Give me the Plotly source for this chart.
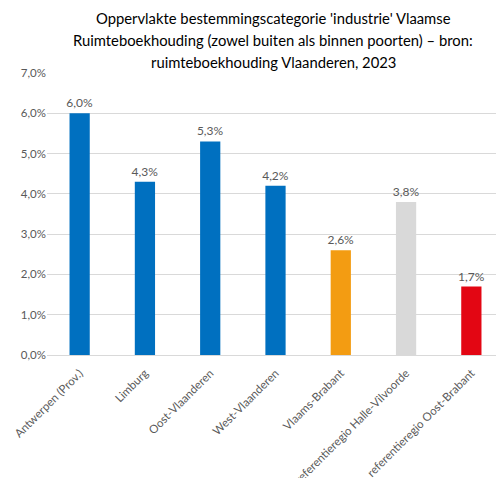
import plotly.graph_objects as go

categories = ["Antwerpen (Prov.)", "Limburg", "Oost-Vlaanderen", "West-Vlaanderen",
              "Vlaams-Brabant", "referentieregio Halle-Vilvoorde", "referentieregio Oost-Brabant"]
values = [6.0, 4.3, 5.3, 4.2, 2.6, 3.8, 1.7]
colors = ["#0070C0", "#0070C0", "#0070C0", "#0070C0", "#F39C12", "#D9D9D9", "#E30613"]
labels = [f"{v:.1f}%".replace(".", ",") for v in values]
ytick_vals = [0, 1, 2, 3, 4, 5, 6, 7]
ytick_text = [f"{v:.1f}%".replace(".", ",") for v in ytick_vals]
title_lines = ["Oppervlakte bestemmingscategorie 'industrie' Vlaamse",
               "Ruimteboekhouding (zowel buiten als binnen poorten) – bron:",
               "ruimteboekhouding Vlaanderen, 2023"]

FONT = "Lato, Open Sans, sans-serif"

fig = go.Figure(go.Bar(
    x=categories, y=values, marker_color=colors, marker_line_width=0,
    text=labels, textposition="outside", cliponaxis=False, constraintext="none",
    textfont=dict(size=12, color="#595959"),
))
annotations = []
for i, line in enumerate(title_lines):
    annotations.append(dict(
        text=line, xref="paper", yref="paper",
        x=0.495, y=(355 - 18 - 22 * i) / 282, xanchor="center", yanchor="middle",
        showarrow=False, font=dict(size=14.8, color="#000000", family=FONT),
    ))
fig.update_layout(
    width=504, height=478,
    paper_bgcolor="white", plot_bgcolor="white",
    font=dict(family=FONT, color="#595959"),
    margin=dict(l=39, r=8, t=65, b=131, autoexpand=False),
    bargap=0.69,
    showlegend=False,
    annotations=annotations,
)
fig.update_yaxes(range=[0, 7], tickvals=ytick_vals, ticktext=ytick_text,
                 gridcolor="#D9D9D9", zeroline=False, showline=False, automargin=False,
                 tickfont=dict(size=11.5, color="#595959"), ticks="", ticklen=0)
fig.update_xaxes(tickangle=-45, tickfont=dict(size=11.5, color="#595959"), automargin=False,
                 ticklabelstandoff=6,
                 showline=True, linecolor="#D9D9D9", ticks="")
fig.write_html("out.html")
